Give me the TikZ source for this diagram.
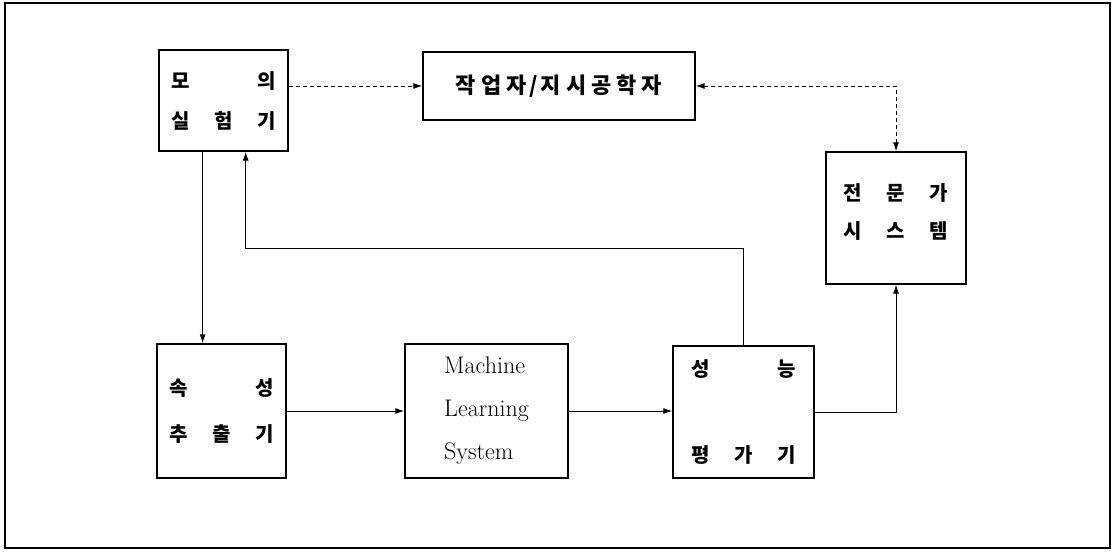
\documentclass[tikz,border=0pt]{standalone}
\usepackage{fontspec}
\newfontfamily\kr{Noto Sans CJK KR}
\usetikzlibrary{arrows.meta,calc}
\newcommand\trio[3]{\makebox[43pt]{#1}\makebox[43pt]{#2}\makebox[43pt]{#3}}
\newcommand\ks{\kern5pt}
\begin{document}
\begin{tikzpicture}[x=1pt,y=-1pt,
  box/.style={draw, line width=1.4pt, inner sep=0pt, align=center},
  kor/.style={font=\kr\bfseries\fontsize{20}{40}\selectfont},
  conn/.style={line width=1pt, -{Latex[length=9pt,width=6pt]}},
  dsh/.style={dash pattern=on 4pt off 3pt}]
\useasboundingbox (0,0) rectangle (1115,551);
\draw[line width=1.3pt] (5,3) rectangle (1110,548);

\node[box,kor,minimum width=127pt,minimum height=101pt] (sim) at (223.5,100.5)
  {\trio{모}{}{의}\\\trio{실}{험}{기}};
\node[box,font=\kr\bfseries\fontsize{22}{26}\selectfont,minimum width=272pt,minimum height=68pt] (op) at (559,86)
  {작\ks 업\ks 자\kern3pt/\kern3pt 지\ks 시\ks 공\ks 학\ks 자};
\node[box,font=\kr\bfseries\fontsize{20}{38}\selectfont,minimum width=140pt,minimum height=132pt] (exp) at (896,218)
  {\trio{전}{문}{가}\\\trio{시}{스}{템}\\[-24pt]\mbox{}};
\node[box,font=\kr\bfseries\fontsize{20}{46}\selectfont,minimum width=127pt,minimum height=134pt] (attr) at (221.5,411)
  {\trio{속}{}{성}\\\trio{추}{출}{기}};
\node[box,font=\fontsize{24}{43}\selectfont,align=left,minimum width=163pt,minimum height=134pt] (ml) at (486.5,411)
  {Machine\\Learning\\System};
\node[box,font=\kr\bfseries\fontsize{20}{86}\selectfont,minimum width=141pt,minimum height=132pt] (perf) at (743.5,412)
  {\trio{성}{}{능}\\\trio{평}{가}{기}};

\coordinate (sd) at ($(sim.south west)!0.34!(sim.south east)$);
\coordinate (su) at ($(sim.south west)!0.67!(sim.south east)$);
\coordinate (turn) at (0,248);

\draw[conn,dsh] (sim.east |- op.west) -- (op.west);
\draw[conn,dsh,{Latex[length=9pt,width=6pt]}-{Latex[length=9pt,width=6pt]}] (op.east) -| (exp.north);
\draw[conn] (sd) -- (sd |- attr.north);
\draw[conn] (perf.north) |- (turn -| su) -- (su);
\draw[conn] (attr.east) -- (ml.west);
\draw[conn] (ml.east) -- (ml.east -| perf.west);
\draw[conn] (perf.east) -| (exp.south);
\end{tikzpicture}
\end{document}
